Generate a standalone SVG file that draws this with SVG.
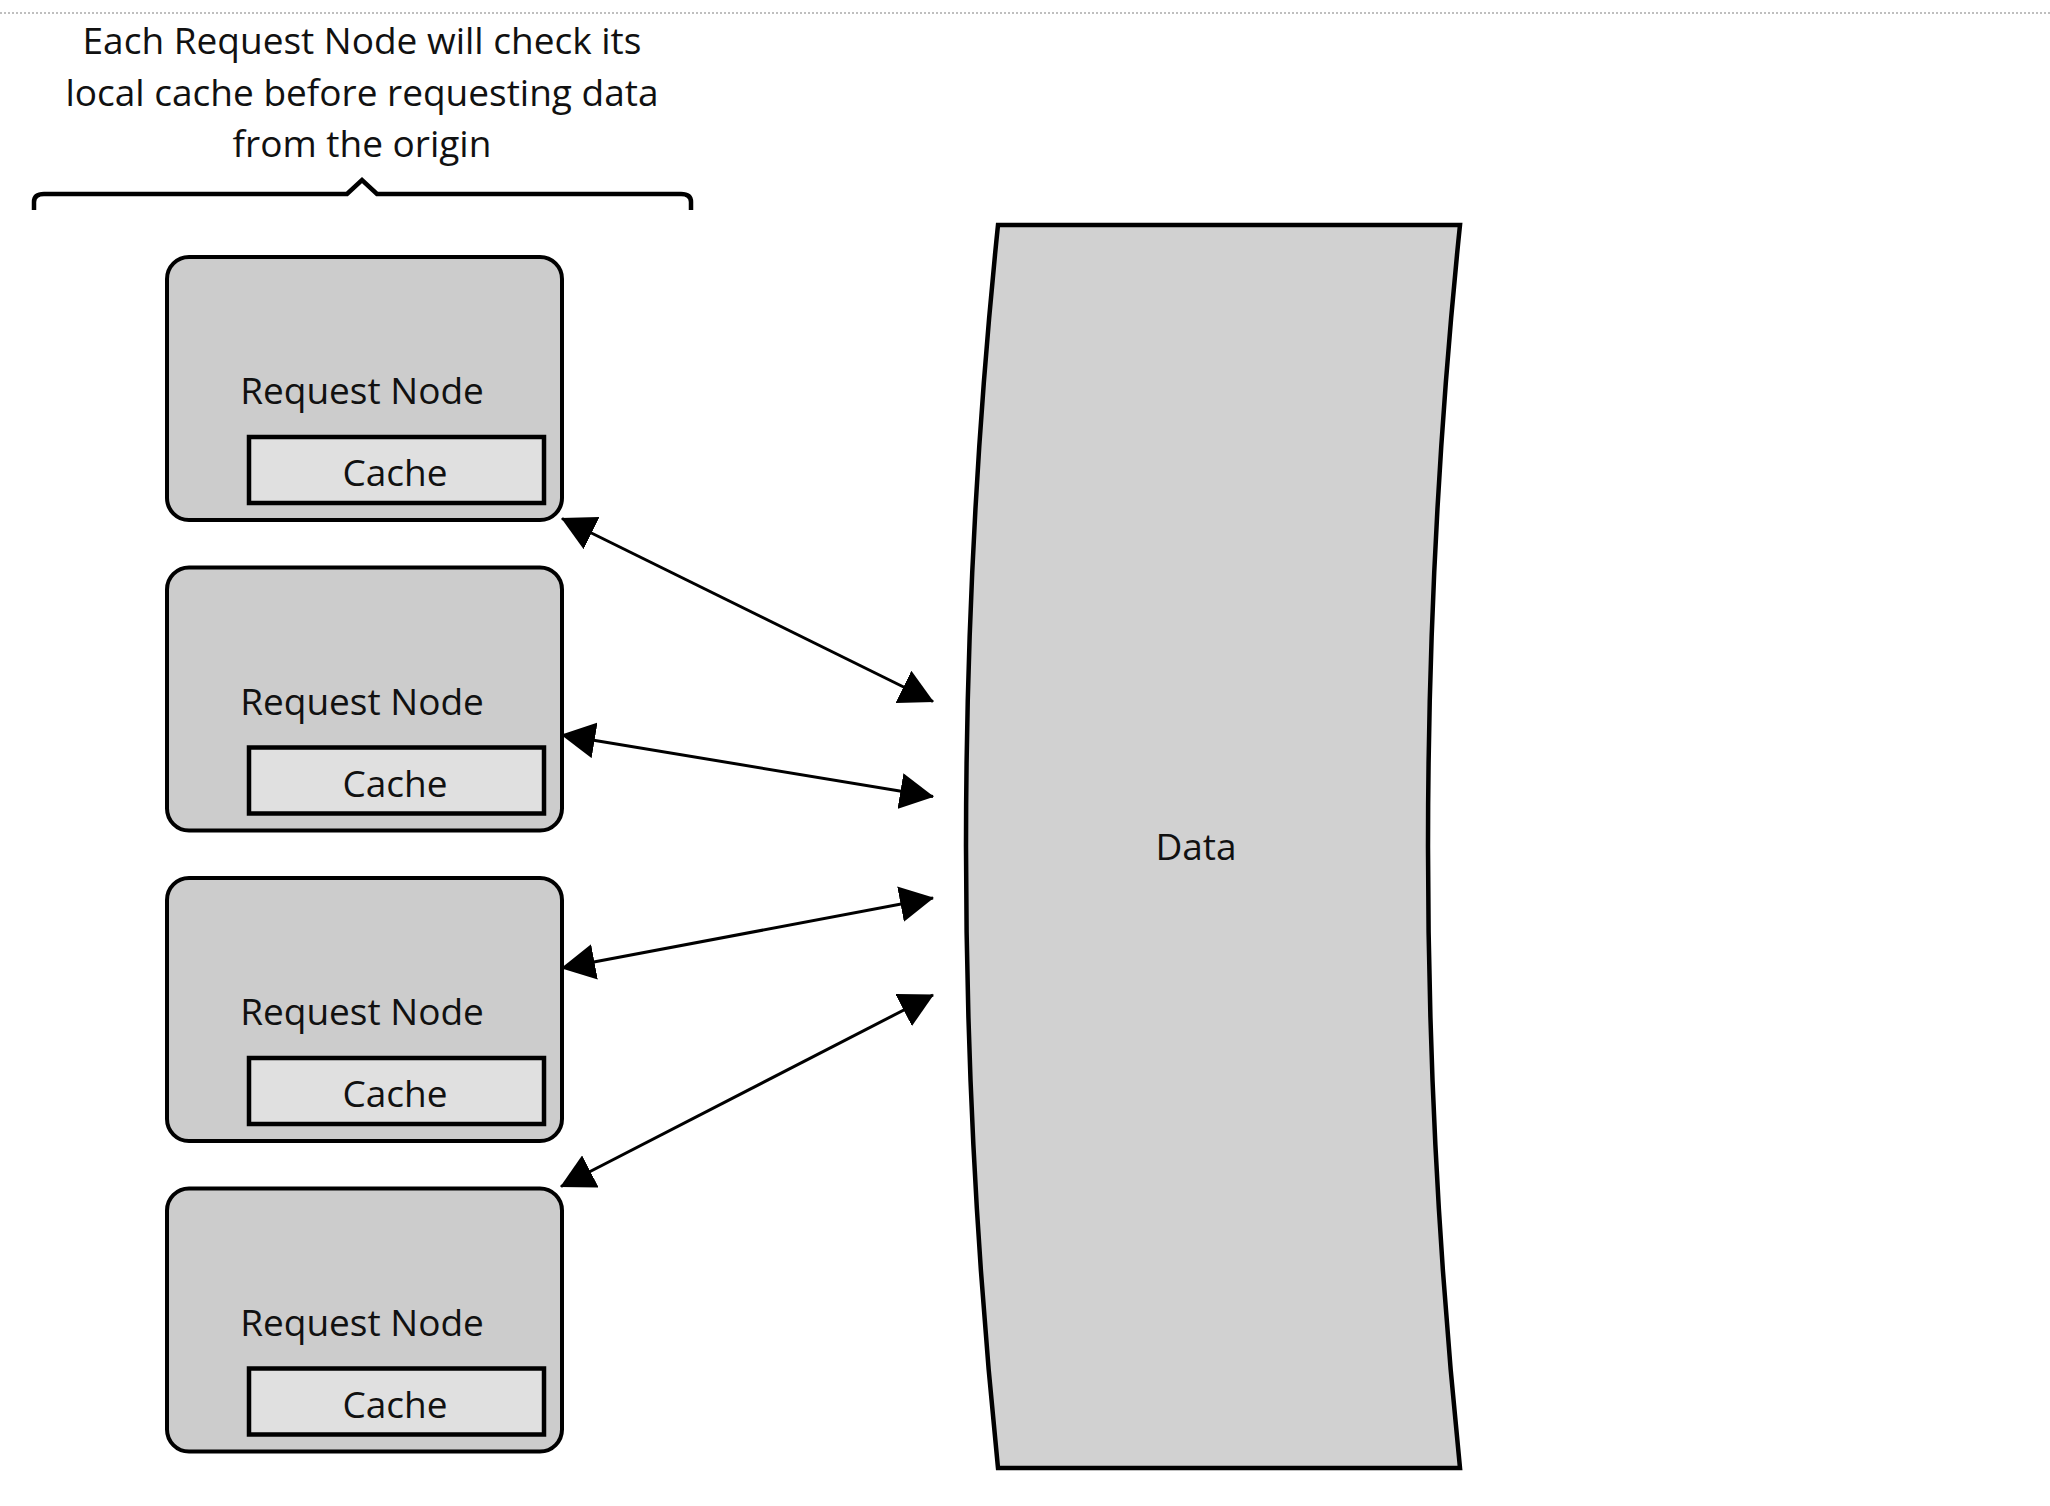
<svg xmlns="http://www.w3.org/2000/svg" width="2050" height="1506" viewBox="0 0 2050 1506">
<defs>
<style>
.t{font-family:"Open Sans","Noto Sans","Liberation Sans",sans-serif;font-size:37px;fill:#111;text-anchor:middle}
.node{fill:#cccccc;stroke:#000;stroke-width:4}
.cache{fill:#e0e0e0;stroke:#000;stroke-width:4.5}
.conn{stroke:#000;stroke-width:3;fill:none}
</style>
<marker id="ah" viewBox="0 0 34 36" refX="33" refY="18" markerWidth="34" markerHeight="36" markerUnits="userSpaceOnUse" orient="auto-start-reverse">
<path d="M0,0 L34,18 L0,36 Z" fill="#000"/>
</marker>
</defs>
<rect width="2050" height="1506" fill="#fff"/>
<line x1="0" y1="13" x2="2050" y2="13" stroke="#aaa" stroke-width="1.5" stroke-dasharray="2,2"/>
<g id="annotation">
<text class="t" x="362" y="54">Each Request Node will check its</text>
<text class="t" x="362" y="106">local cache before requesting data</text>
<text class="t" x="362" y="157">from the origin</text>
<path d="M34,210 L34,202 Q34,194 44,194 L347,194 L362,180 L377,194 L681,194 Q691,194 691,202 L691,210" fill="none" stroke="#000" stroke-width="4.5"/>
</g>
<g id="node1">
<rect class="node" x="167" y="257" width="395" height="263" rx="22"/>
<text class="t" x="362" y="404">Request Node</text>
<rect class="cache" x="249" y="437" width="295" height="66"/>
<text class="t" x="395" y="486">Cache</text>
</g>
<g id="node2">
<rect class="node" x="167" y="567.5" width="395" height="263" rx="22"/>
<text class="t" x="362" y="714.5">Request Node</text>
<rect class="cache" x="249" y="747.5" width="295" height="66"/>
<text class="t" x="395" y="796.5">Cache</text>
</g>
<g id="node3">
<rect class="node" x="167" y="878" width="395" height="263" rx="22"/>
<text class="t" x="362" y="1025">Request Node</text>
<rect class="cache" x="249" y="1058" width="295" height="66"/>
<text class="t" x="395" y="1107">Cache</text>
</g>
<g id="node4">
<rect class="node" x="167" y="1188.5" width="395" height="263" rx="22"/>
<text class="t" x="362" y="1335.5">Request Node</text>
<rect class="cache" x="249" y="1368.5" width="295" height="66"/>
<text class="t" x="395" y="1417.5">Cache</text>
</g>
<g id="data">
<path d="M998,225 L1460,225 Q1396,846.5 1460,1468 L998,1468 Q934,846.5 998,225 Z" fill="#d1d1d1" stroke="#000" stroke-width="4.5" stroke-linejoin="miter"/>
<text class="t" x="1196" y="860">Data</text>
</g>
<g id="connectors">
<line class="conn" x1="562" y1="518.5" x2="933" y2="701.5" marker-start="url(#ah)" marker-end="url(#ah)"/>
<line class="conn" x1="562" y1="735" x2="933" y2="796.5" marker-start="url(#ah)" marker-end="url(#ah)"/>
<line class="conn" x1="562" y1="968" x2="933" y2="898" marker-start="url(#ah)" marker-end="url(#ah)"/>
<line class="conn" x1="561" y1="1186.5" x2="933" y2="995" marker-start="url(#ah)" marker-end="url(#ah)"/>
</g>
</svg>
